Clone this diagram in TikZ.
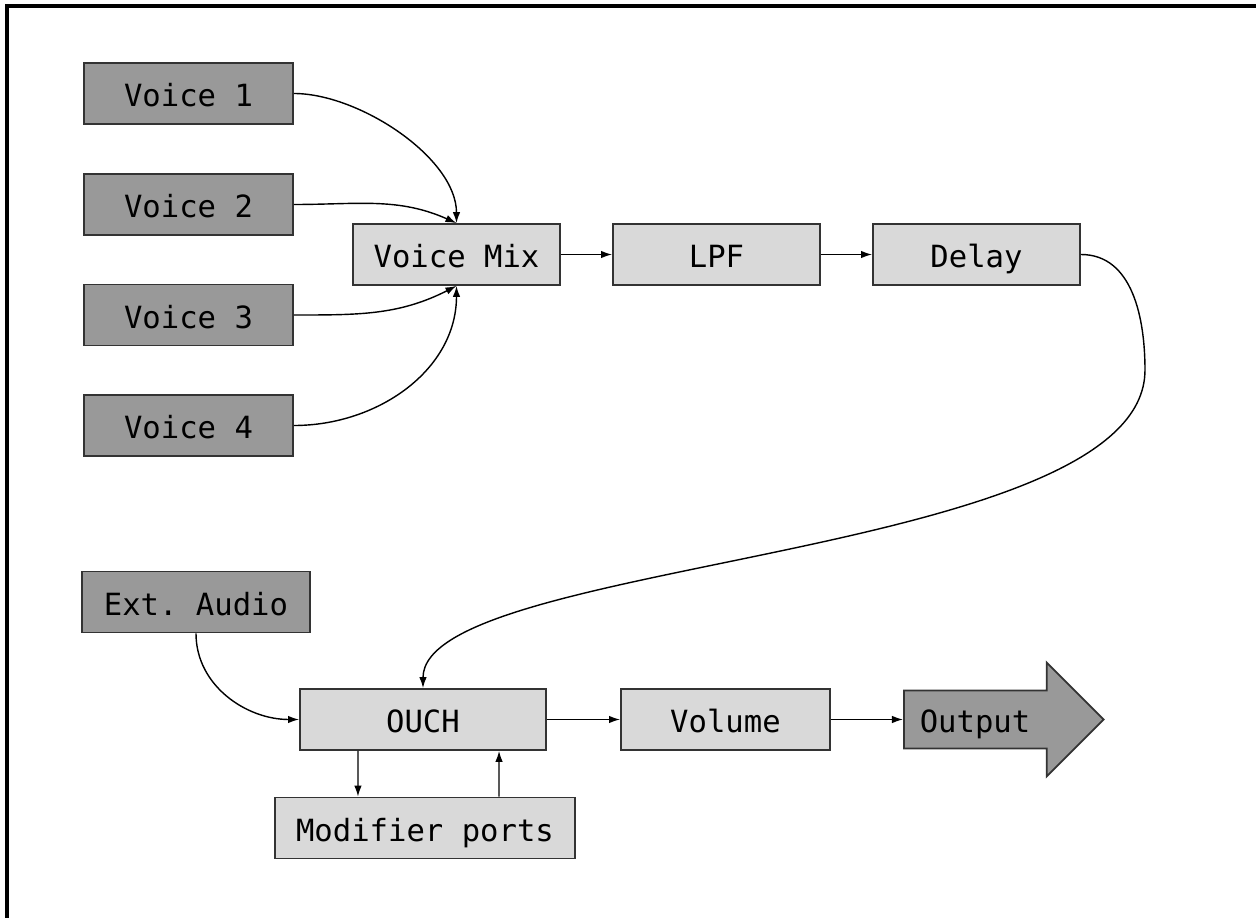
\documentclass[tikz,border=0pt]{standalone}
\usepackage{fontspec}
\setmonofont{DejaVu Sans Mono}
\usetikzlibrary{arrows.meta,shapes.arrows}
\tikzset{
  darkbox/.style={draw=black!80,line width=0.5pt,fill=black!40,minimum height=0.61cm,
    inner sep=0pt,text height=0.28cm,text depth=0.02cm,font=\ttfamily\fontsize{8.7}{10}\selectfont},
  lightbox/.style={darkbox,fill=black!15},
  outarrow/.style={single arrow,draw=black!80,line width=0.5pt,fill=black!40,
    font=\ttfamily\fontsize{8.7}{10}\selectfont,text width=1.39cm,align=left,
    text height=0.27cm,text depth=0.016cm,inner xsep=0.15cm,inner ysep=0.137cm,
    single arrow head extend=0.28cm,single arrow tip angle=90},
  conn/.style={-{Latex[length=1.1mm,width=0.75mm]},line width=0.4pt},
}

\begin{document}
\begin{tikzpicture}[x=0.01cm,y=-0.01cm]
  \useasboundingbox (0,0) rectangle (1256,918);
  \draw[line width=0.9pt] (7,918) -- (7,6) -- (1256,6);
  \node[darkbox,minimum width=2.09cm](v1)at(188.5,93.5){Voice 1};
  \node[darkbox,minimum width=2.09cm](v2)at(188.5,204.5){Voice 2};
  \node[darkbox,minimum width=2.09cm](v3)at(188.5,315){Voice 3};
  \node[darkbox,minimum width=2.09cm](v4)at(188.5,425.5){Voice 4};
  \node[lightbox,minimum width=2.07cm](mix)at(456.5,254.5){Voice Mix};
  \node[lightbox,minimum width=2.07cm](lpf)at(716.5,254.5){LPF};
  \node[lightbox,minimum width=2.07cm](delay)at(976.5,254.5){Delay};
  \node[darkbox,minimum width=2.28cm](ext)at(196,602){Ext. Audio};
  \node[lightbox,minimum width=2.46cm](ouch)at(423,719.5){OUCH};
  \node[lightbox,minimum width=3.00cm](mod)at(425,828){Modifier ports};
  \node[lightbox,minimum width=2.09cm](volume)at(725.5,719.5){Volume};
  \node[outarrow,anchor=west](output)at(903,719.5){Output};
  \coordinate (bend) at (1145,370);
  \draw[conn](v1.east) to[out=0,in=90,looseness=0.8] (mix.north);
  \draw[conn](v2.east) to[out=0,in=156] (mix.north);
  \draw[conn](v3.east) to[out=0,in=-153] (mix.south);
  \draw[conn](v4.east) to[out=0,in=-90] (mix.south);
  \draw[conn](mix)--(lpf);
  \draw[conn](lpf)--(delay);
  \draw[conn](delay.east) to[out=0,in=90] (bend) .. controls +(0,190) and +(0,-130) .. (ouch.north);
  \draw[conn](ext.south) to[out=-90,in=180] (ouch.west);
  \draw[conn]([xshift=-0.65cm]ouch.south)--([xshift=-0.67cm]mod.north);
  \draw[conn]([xshift=0.74cm]mod.north)--([xshift=0.76cm]ouch.south);
  \draw[conn](ouch)--(volume);
  \draw[conn](volume.east)--(output.west);
\end{tikzpicture}
\end{document}
